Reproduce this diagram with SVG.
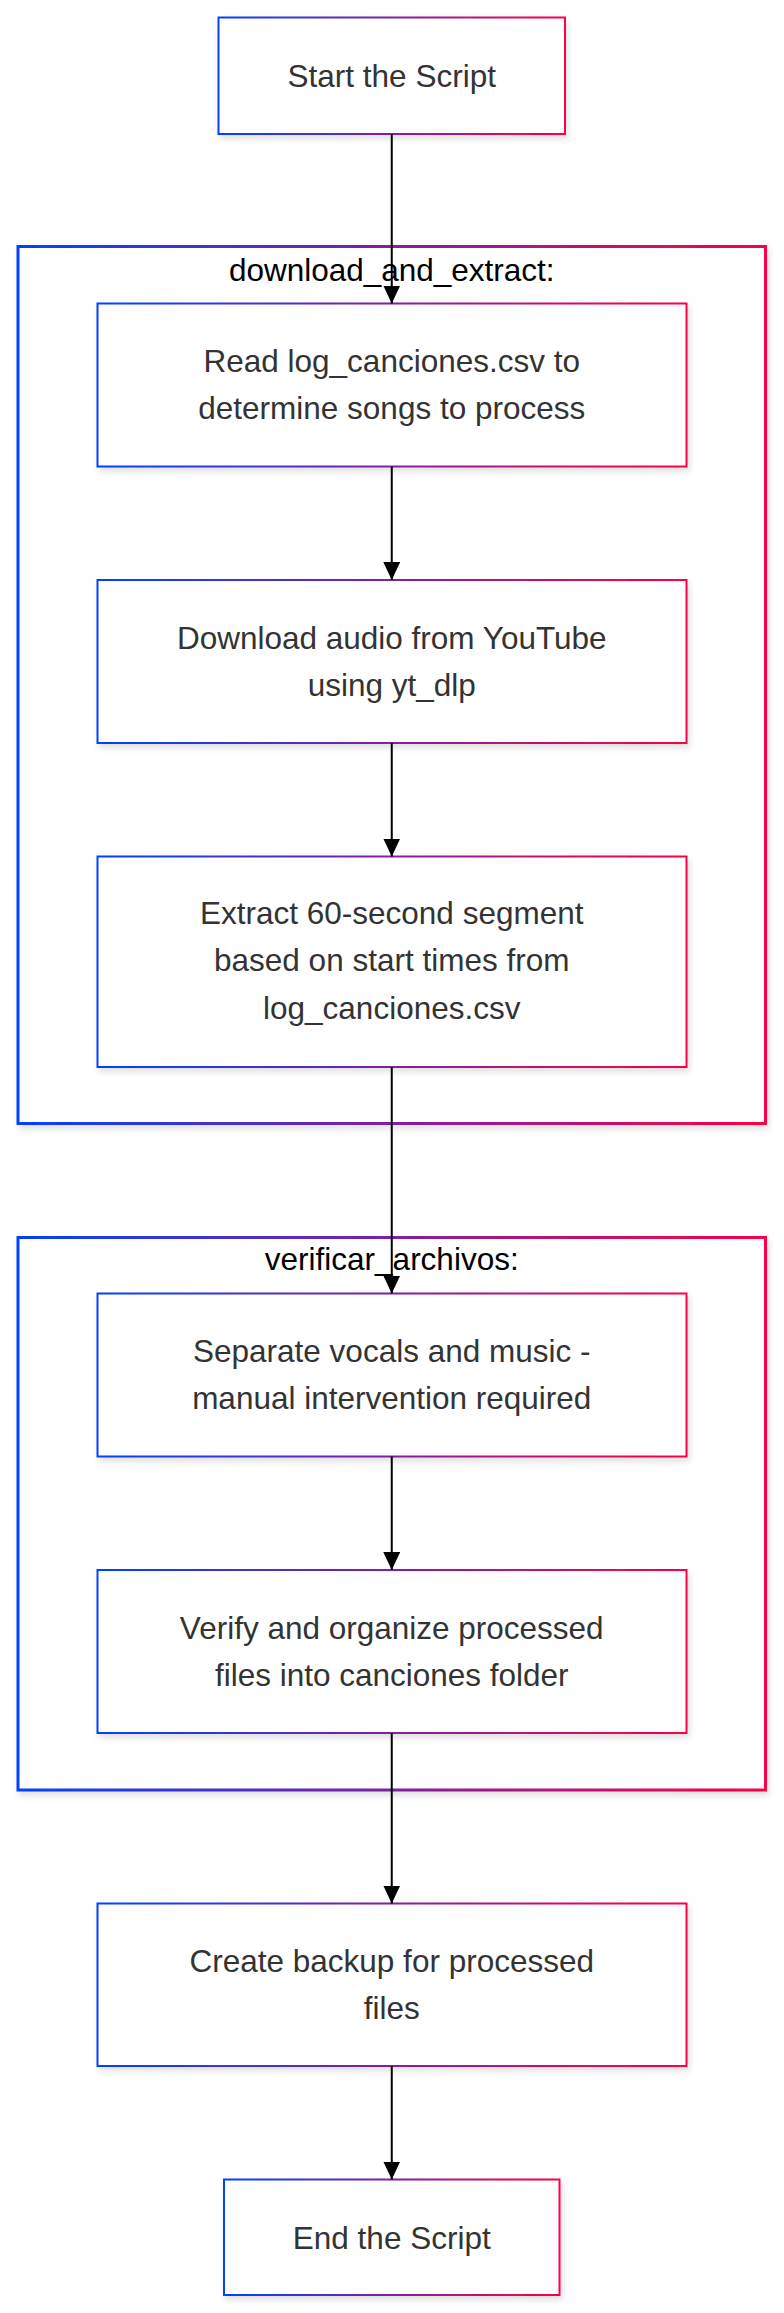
<svg xmlns="http://www.w3.org/2000/svg" width="784" height="2313" viewBox="0 0 784 2313">
<style>
.node rect{fill:#ffffff;stroke:url(#grad);stroke-width:2;filter:url(#shadow)}
.cluster rect{fill:#ffffff;stroke:url(#grad);stroke-width:3;filter:url(#shadow)}
.node text{font-family:"Liberation Sans",Arial,sans-serif;font-size:31.5px;fill:#333333;text-anchor:middle}
.cluster text{font-family:"Liberation Sans",Arial,sans-serif;font-size:31.5px;fill:#000000;text-anchor:middle}
.edges line{stroke:#000000;stroke-width:2;fill:none;marker-end:url(#arrow)}
</style>
<defs>
<linearGradient id="grad" x1="0" y1="0" x2="1" y2="0">
<stop offset="0" stop-color="#0042ff"/>
<stop offset="1" stop-color="#ff0044"/>
</linearGradient>
<filter id="shadow" x="-10%" y="-10%" width="120%" height="125%">
<feDropShadow dx="2" dy="4" stdDeviation="3" flood-color="#000000" flood-opacity="0.12"/>
</filter>
<marker id="arrow" viewBox="0 0 18 17" refX="18" refY="8.5" markerWidth="18" markerHeight="17" markerUnits="userSpaceOnUse" orient="auto">
<path d="M0,0 L18,8.5 L0,17 z" fill="#000000"/>
</marker>
</defs>
<g id="cluster-download_and_extract" class="cluster">
<rect x="18" y="246.5" width="747.5" height="877"/>
<text x="391.75" y="281">download_and_extract:</text>
</g>
<g id="cluster-verificar_archivos" class="cluster">
<rect x="18" y="1237.5" width="747.5" height="552.5"/>
<text x="391.75" y="1270">verificar_archivos:</text>
</g>
<g id="node-start" class="node">
<rect x="218.5" y="17.5" width="346.5" height="116.5"/>
<text x="391.75" y="87">Start the Script</text>
</g>
<g id="node-read" class="node">
<rect x="97.5" y="303.5" width="589" height="163"/>
<text x="391.75" y="372">Read log_canciones.csv to</text>
<text x="391.75" y="419">determine songs to process</text>
</g>
<g id="node-download" class="node">
<rect x="97.5" y="580" width="589" height="163"/>
<text x="391.75" y="648.5">Download audio from YouTube</text>
<text x="391.75" y="695.5">using yt_dlp</text>
</g>
<g id="node-extract" class="node">
<rect x="97.5" y="856.5" width="589" height="210.5"/>
<text x="391.75" y="923.5">Extract 60-second segment</text>
<text x="391.75" y="971">based on start times from</text>
<text x="391.75" y="1018.5">log_canciones.csv</text>
</g>
<g id="node-separate" class="node">
<rect x="97.5" y="1293.5" width="589" height="163"/>
<text x="391.75" y="1362">Separate vocals and music -</text>
<text x="391.75" y="1409">manual intervention required</text>
</g>
<g id="node-verify" class="node">
<rect x="97.5" y="1570" width="589" height="163"/>
<text x="391.75" y="1638.5">Verify and organize processed</text>
<text x="391.75" y="1685.5">files into canciones folder</text>
</g>
<g id="node-backup" class="node">
<rect x="97.5" y="1903.5" width="589" height="162.5"/>
<text x="391.75" y="1972">Create backup for processed</text>
<text x="391.75" y="2019">files</text>
</g>
<g id="node-end" class="node">
<rect x="224" y="2179.5" width="335.5" height="115.5"/>
<text x="391.75" y="2248.5">End the Script</text>
</g>
<g id="edges" class="edges">
<line x1="391.75" y1="134" x2="391.75" y2="303.5"/>
<line x1="391.75" y1="466.5" x2="391.75" y2="580"/>
<line x1="391.75" y1="743" x2="391.75" y2="856.5"/>
<line x1="391.75" y1="1067" x2="391.75" y2="1293.5"/>
<line x1="391.75" y1="1456.5" x2="391.75" y2="1570"/>
<line x1="391.75" y1="1733" x2="391.75" y2="1903.5"/>
<line x1="391.75" y1="2066" x2="391.75" y2="2179.5"/>
</g>
</svg>
